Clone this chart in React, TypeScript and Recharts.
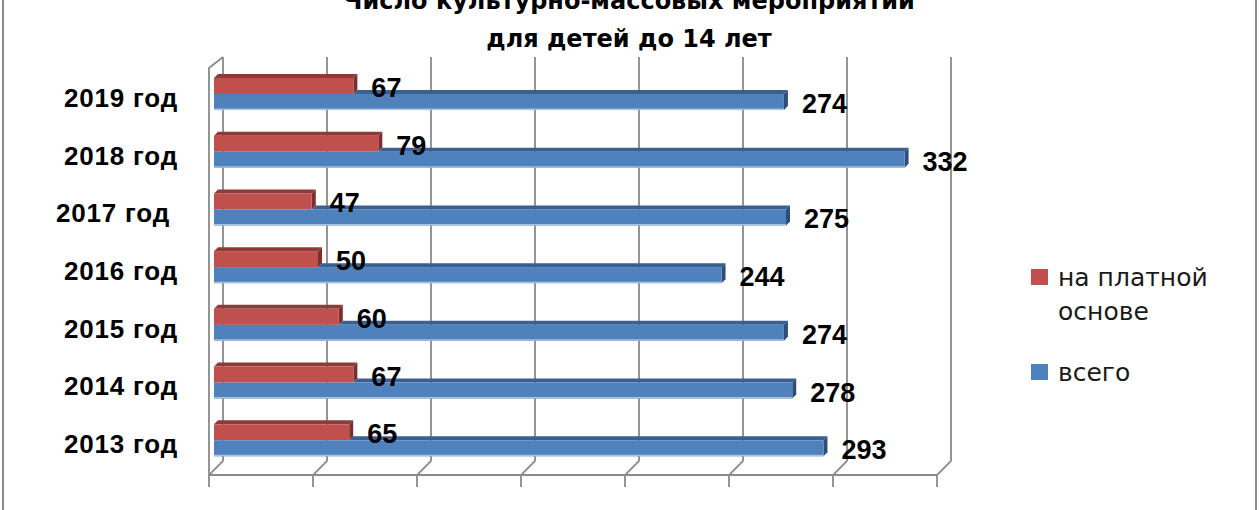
import React from 'react';
import { Bar, BarChart, CartesianGrid, LabelList, Legend, XAxis, YAxis } from 'recharts';

// --- данные ---
const years = ['2019 год', '2018 год', '2017 год ', '2016 год', '2015 год', '2014 год', '2013 год'];
const paid = [67, 79, 47, 50, 60, 67, 65];
const total = [274, 332, 275, 244, 274, 278, 293];
const xTicks = [0, 50, 100, 150, 200, 250, 300, 350];
const seriesNames = ['на платной основе', 'всего'];

const data = years.map((year, i) => ({ year, paid: paid[i], total: total[i] }));

const DEPTH = 4;
const GRID = '#8a8a8a';

// 3D-брусок: передняя грань + верх + правый бок
const Bar3D = (props: any) => {
  const { x, y, width, height, fill, payload, dataKey } = props;
  if (width == null || width <= 0) return null;
  const d = DEPTH;
  const isTotal = dataKey === 'total';
  const top = isTotal ? '#3a5f91' : '#8e3a38';
  const side = isTotal ? '#2e4e79' : '#7c302e';
  // верх синего бруска виден только правее красного
  const startX = isTotal ? x + (width * payload.paid) / payload.total : x;
  return (
    <g>
      <polygon
        points={`${startX},${y} ${startX + d},${y - d} ${x + width + d},${y - d} ${x + width},${y}`}
        fill={top}
      />
      <polygon
        points={`${x + width},${y} ${x + width + d},${y - d} ${x + width + d},${y + height - d} ${x + width},${y + height}`}
        fill={side}
      />
      <rect x={x} y={y} width={width} height={height} fill={fill} />
      {isTotal && <line x1={x} x2={x + width} y1={y + height - 0.75} y2={y + height - 0.75} stroke="#a9c1e0" strokeWidth={1.5} />}
    </g>
  );
};

const ValueLabel = (props: any) => {
  const { x, y, width, height, value } = props;
  return (
    <text
      x={x + width + 18}
      y={y + height / 2 + 11}
      fontFamily="Liberation Sans, Arial, sans-serif"
      fontWeight="bold"
      fontSize={27}
      fill="#000"
    >
      {value}
    </text>
  );
};

const YearTick = (props: any) => {
  const { x, y, payload } = props;
  return (
    <text
      x={x}
      y={y + 13}
      textAnchor="end"
      xmlSpace="preserve"
      fontFamily="Liberation Sans, Arial, sans-serif"
      fontWeight="bold"
      fontSize={26}
      letterSpacing={0.8}
      fill="#000"
    >
      {payload.value}
    </text>
  );
};

const NoTick = () => <g />;

// стенка и пол псевдо-3D сетки
const GridVertical = (props: any) => {
  const { x1, y1, y2, index } = props;
  const back = x1 + 9;
  const front = x1 - 5;
  return (
    <g key={`v-${index}`}>
      <path d={`M${back},${y1 - 8} L${back},${y2 - 8} L${front},${y2 + 6} L${front},${y2 + 18}`} stroke={GRID} strokeWidth={1.8} fill="none" />
      {index === 0 && (
        <path d={`M${back},${y1 - 8} L${front},${y1 + 3} L${front},${y2 + 6}`} stroke={GRID} strokeWidth={1.8} fill="none" />
      )}
    </g>
  );
};

const GridHorizontal = (props: any) => {
  const { x1, x2, y1, index } = props;
  return <line key={`h-${index}`} x1={x1 - 5} x2={x2 - 5} y1={y1 + 6} y2={y1 + 6} stroke={GRID} strokeWidth={1.8} />;
};

const LegendContent = (props: any) => {
  const items = [...(props.payload || [])].sort(
    (a: any, b: any) => seriesNames.indexOf(a.value) - seriesNames.indexOf(b.value)
  );
  return (
    <div style={{ fontFamily: 'DejaVu Sans, sans-serif', fontSize: 25, lineHeight: '34px', color: '#1a1a1a' }}>
      {items.map((entry: any, i: number) => (
        <div key={i} style={{ display: 'flex', alignItems: 'flex-start', marginBottom: i === 0 ? 27 : 0 }}>
          <span style={{ display: 'inline-block', width: 17, height: 16, marginTop: 8, background: entry.color, flex: 'none' }} />
          <span style={{ marginLeft: 10, width: 165 }}>{entry.value}</span>
        </div>
      ))}
    </div>
  );
};

export default function App() {
  return (
    <div style={{ position: 'absolute', left: 0, top: 0, width: 1260, height: 510, overflow: 'hidden', background: '#fff' }}>
      <div style={{ position: 'absolute', left: 2, top: -10, width: 1251, height: 540, border: '2px solid #8c8c8c' }} />
      <div
        style={{
          position: 'absolute',
          left: 0,
          top: -18,
          width: 1258,
          textAlign: 'center',
          fontFamily: 'DejaVu Sans, sans-serif',
          fontWeight: 'bold',
          fontSize: 24,
          lineHeight: '38px',
          color: '#000',
        }}
      >
        Число культурно-массовых мероприятий
        <br />
        для детей до 14 лет
      </div>
      <div style={{ position: 'absolute', left: 0, top: 0 }}>
        <BarChart
          width={1260}
          height={510}
          data={data}
          layout="vertical"
          barGap={0}
          margin={{ top: 65, right: 318, bottom: 41, left: 0 }}
        >
          <CartesianGrid
            vertical={GridVertical}
            horizontal={GridHorizontal}
            horizontalCoordinatesGenerator={({ offset }: any) => [offset.top + offset.height]}
          />
          <XAxis type="number" domain={[0, 350]} ticks={xTicks} height={0} tick={NoTick} axisLine={false} tickLine={false} />
          <YAxis
            type="category"
            dataKey="year"
            width={214}
            tickLine={false}
            axisLine={false}
            tickSize={0}
            tickMargin={36}
            tick={<YearTick />}
          />
          <Legend
            layout="horizontal"
            align="center"
            verticalAlign="middle"
            content={<LegendContent />}
            wrapperStyle={{ left: 1031, top: 261, width: 220 }}
          />
          <Bar dataKey="paid" name={seriesNames[0]} fill="#c0504d" barSize={16} shape={<Bar3D />} isAnimationActive={false}>
            <LabelList dataKey="paid" content={<ValueLabel />} />
          </Bar>
          <Bar dataKey="total" name={seriesNames[1]} fill="#4f81bd" barSize={16} shape={<Bar3D />} isAnimationActive={false}>
            <LabelList dataKey="total" content={<ValueLabel />} />
          </Bar>
        </BarChart>
      </div>
    </div>
  );
}
